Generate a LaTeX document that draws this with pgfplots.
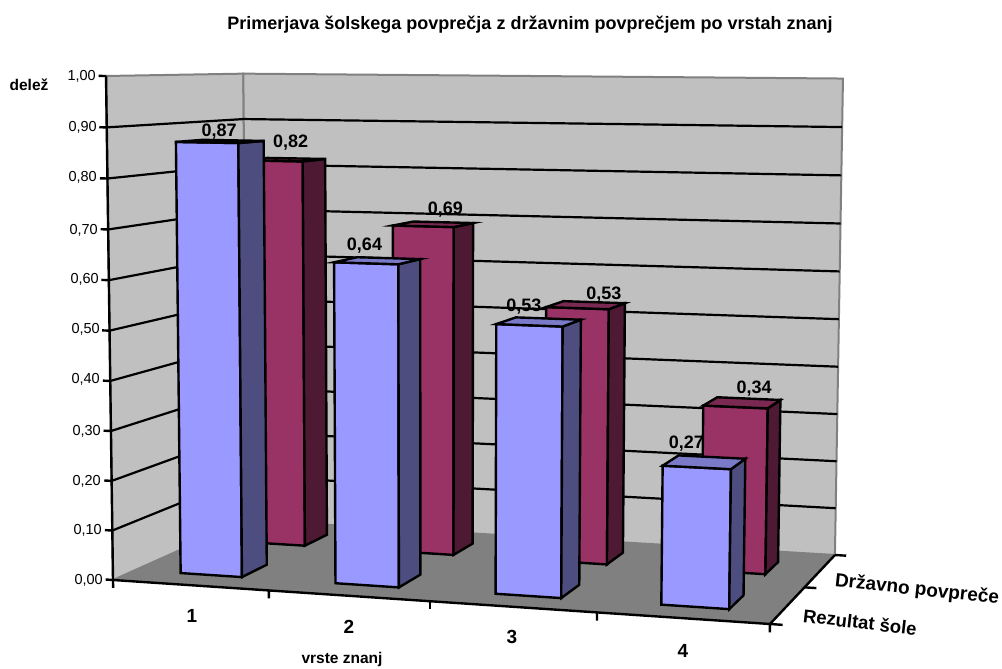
\documentclass[border=0pt]{standalone}
\usepackage{pgfplots}
\pgfplotsset{compat=1.18}
\usepackage{fontspec}
\setmainfont{Liberation Sans}
\definecolor{wallc}{HTML}{C0C0C0}
\definecolor{floorc}{HTML}{808080}
\definecolor{blueF}{HTML}{9999FF}
\definecolor{blueS}{HTML}{4D4D80}
\definecolor{blueT}{HTML}{7A7AC8}
\definecolor{redF}{HTML}{993366}
\definecolor{redS}{HTML}{4D1933}
\definecolor{redT}{HTML}{7A2952}
\newcommand\fs[1]{\fontsize{#1}{#1}\selectfont}
% One polygon or polyline given in chart coordinates:
% u along the categories, v along the series, w the share.
\newcommand\face[2]{%
  \addplot[#1,forget plot,no markers,sharp plot,line join=miter] table[row sep=\\,
    x expr={px(\thisrow{u},\thisrow{v},\thisrow{w})},
    y expr={py(\thisrow{u},\thisrow{v},\thisrow{w})}] {u v w\\ #2};}
% Column: u0 u1 v0 v1 value, colour family, label offsets, label
\newcommand\column[9]{%
  \face{draw=black,line width=2.4pt,fill=#6F}{#1 #3 #5\\ #2 #3 #5\\ #2 #3 0\\ #1 #3 0\\ #1 #3 #5\\ #2 #3 #5\\}
  \face{draw=black,line width=2.4pt,fill=#6S}{#2 #3 #5\\ #2 #4 #5\\ #2 #4 0\\ #2 #3 0\\ #2 #3 #5\\ #2 #4 #5\\}
  \face{draw=black,line width=2.4pt,fill=#6T}{#1 #3 #5\\ #2 #3 #5\\ #2 #4 #5\\ #1 #4 #5\\ #1 #3 #5\\ #2 #3 #5\\}
  \addplot[draw=none,forget plot,no markers,nodes near coords={\fs{18}\bfseries #9},
    every node near coord/.append style={anchor=center,inner sep=0pt,text=black,xshift=#7pt,yshift=#8pt},
    ] table[row sep=\\,
    x expr={px((#1+#2)/2,(#3+#4)/2,#5)},
    y expr={py((#1+#2)/2,(#3+#4)/2,#5)}] {a\\ 0\\};
}
\begin{document}
\begin{tikzpicture}
\path[use as bounding box] (0,0) rectangle (1002pt,669pt);
\begin{axis}[
  scale only axis,width=1002pt,height=669pt,
  xmin=0,xmax=1002,ymin=0,ymax=669,y dir=reverse,
  axis lines=none,clip=false,
  declare function={
    qq(\u,\v,\w)=1-0.0671*\u+0.1248*\v-0.021*\w;
    px(\u,\v,\w)=(605.3*\u+164.8*\v+113-9.2*\w)/qq(\u,\v,\w);
    py(\u,\v,\w)=(2.13*\u+4.9*\v+580-505.6*\w+2*\v*\w*(1-\u))/qq(\u,\v,\w);
  },
]
% walls and floor
\face{fill=wallc,draw=floorc,line width=2pt}{0 0 0\\ 0 1 0\\ 0 1 1\\ 0 0 1\\ 0 0 0\\}
\face{fill=wallc,draw=floorc,line width=2pt}{0 1 0\\ 1 1 0\\ 1 1 1\\ 0 1 1\\ 0 1 0\\}
\face{fill=floorc,draw=none}{0 0 0\\ 1 0 0\\ 1 1 0\\ 0 1 0\\ 0 0 0\\}
% grid lines
\face{draw=black,line width=2.2pt}{0 0 0.1\\ 0 1 0.1\\ 1 1 0.1\\}
\face{draw=black,line width=2.2pt}{0 0 0.2\\ 0 1 0.2\\ 1 1 0.2\\}
\face{draw=black,line width=2.2pt}{0 0 0.3\\ 0 1 0.3\\ 1 1 0.3\\}
\face{draw=black,line width=2.2pt}{0 0 0.4\\ 0 1 0.4\\ 1 1 0.4\\}
\face{draw=black,line width=2.2pt}{0 0 0.5\\ 0 1 0.5\\ 1 1 0.5\\}
\face{draw=black,line width=2.2pt}{0 0 0.6\\ 0 1 0.6\\ 1 1 0.6\\}
\face{draw=black,line width=2.2pt}{0 0 0.7\\ 0 1 0.7\\ 1 1 0.7\\}
\face{draw=black,line width=2.2pt}{0 0 0.8\\ 0 1 0.8\\ 1 1 0.8\\}
\face{draw=black,line width=2.2pt}{0 0 0.9\\ 0 1 0.9\\ 1 1 0.9\\}
% axis lines and tick marks
\face{draw=black,line width=2.4pt}{0 0 1\\ 0 0 0\\ 1 0 0\\ 1 1 0\\}
\face{draw=black,line width=2.4pt}{-0.012 0 1\\ 0 0 1\\}
\face{draw=black,line width=2.4pt}{-0.012 0 0.9\\ 0 0 0.9\\}
\face{draw=black,line width=2.4pt}{-0.012 0 0.8\\ 0 0 0.8\\}
\face{draw=black,line width=2.4pt}{-0.012 0 0.7\\ 0 0 0.7\\}
\face{draw=black,line width=2.4pt}{-0.012 0 0.6\\ 0 0 0.6\\}
\face{draw=black,line width=2.4pt}{-0.012 0 0.5\\ 0 0 0.5\\}
\face{draw=black,line width=2.4pt}{-0.012 0 0.4\\ 0 0 0.4\\}
\face{draw=black,line width=2.4pt}{-0.012 0 0.3\\ 0 0 0.3\\}
\face{draw=black,line width=2.4pt}{-0.012 0 0.2\\ 0 0 0.2\\}
\face{draw=black,line width=2.4pt}{-0.012 0 0.1\\ 0 0 0.1\\}
\face{draw=black,line width=2.4pt}{-0.012 0 0\\ 0 0 0\\}
\face{draw=black,line width=2.4pt}{0 0 0\\ 0 0 -0.016\\}
\face{draw=black,line width=2.4pt}{0.25 0 0\\ 0.25 0 -0.016\\}
\face{draw=black,line width=2.4pt}{0.5 0 0\\ 0.5 0 -0.016\\}
\face{draw=black,line width=2.4pt}{0.75 0 0\\ 0.75 0 -0.016\\}
\face{draw=black,line width=2.4pt}{1 0 0\\ 1 0 -0.016\\}
\face{draw=black,line width=2.4pt}{1 0 0\\ 1.018 0 0\\}
\face{draw=black,line width=2.4pt}{1 0.5 0\\ 1.018 0.5 0\\}
\face{draw=black,line width=2.4pt}{1 1 0\\ 1.018 1 0\\}
% national average, then school result in front of it
\column{0.075}{0.175}{0.65}{0.84}{0.82}{red}{6}{17}{0,82}
\column{0.325}{0.425}{0.65}{0.84}{0.69}{red}{12}{15}{0,69}
\column{0.575}{0.675}{0.65}{0.84}{0.53}{red}{18}{11}{0,53}
\column{0.825}{0.925}{0.65}{0.84}{0.34}{red}{12}{14}{0,34}
\column{0.075}{0.175}{0.15}{0.34}{0.87}{blue}{-1}{10}{0,87}
\column{0.325}{0.425}{0.15}{0.34}{0.64}{blue}{-13}{15}{0,64}
\column{0.575}{0.675}{0.15}{0.34}{0.53}{blue}{-15}{15}{0,53}
\column{0.825}{0.925}{0.15}{0.34}{0.27}{blue}{-18}{19}{0,27}
% texts
\node[font=\fs{18}\bfseries] at (axis cs:530,25) {Primerjava šolskega povprečja z državnim povprečjem po vrstah znanj};
\node[font=\fs{15.5}\bfseries] at (axis cs:29,85) {delež};
\node[font=\fs{15.5}\bfseries] at (axis cs:342,659) {vrste znanj};
\node[font=\fs{14.5},anchor=east,inner sep=0pt] at (axis cs:96,76) {1,00};
\node[font=\fs{14.5},anchor=east,inner sep=0pt] at (axis cs:97,127) {0,90};
\node[font=\fs{14.5},anchor=east,inner sep=0pt] at (axis cs:97,177) {0,80};
\node[font=\fs{14.5},anchor=east,inner sep=0pt] at (axis cs:98,230) {0,70};
\node[font=\fs{14.5},anchor=east,inner sep=0pt] at (axis cs:99,279) {0,60};
\node[font=\fs{14.5},anchor=east,inner sep=0pt] at (axis cs:100,329) {0,50};
\node[font=\fs{14.5},anchor=east,inner sep=0pt] at (axis cs:100,379) {0,40};
\node[font=\fs{14.5},anchor=east,inner sep=0pt] at (axis cs:101,431) {0,30};
\node[font=\fs{14.5},anchor=east,inner sep=0pt] at (axis cs:101,481) {0,20};
\node[font=\fs{14.5},anchor=east,inner sep=0pt] at (axis cs:102,530) {0,10};
\node[font=\fs{14.5},anchor=east,inner sep=0pt] at (axis cs:103,580) {0,00};
\node[font=\fs{19}\bfseries] at (axis cs:192,616) {1};
\node[font=\fs{19}\bfseries] at (axis cs:349,627) {2};
\node[font=\fs{19}\bfseries] at (axis cs:512,637) {3};
\node[font=\fs{19}\bfseries] at (axis cs:683,651) {4};
\node[font=\fs{19}\bfseries,rotate=-6] at (axis cs:917,590) {Državno povpreče};
\node[font=\fs{18.5}\bfseries,rotate=-6.5] at (axis cs:860,622) {Rezultat šole};
\end{axis}
\end{tikzpicture}
\end{document}
